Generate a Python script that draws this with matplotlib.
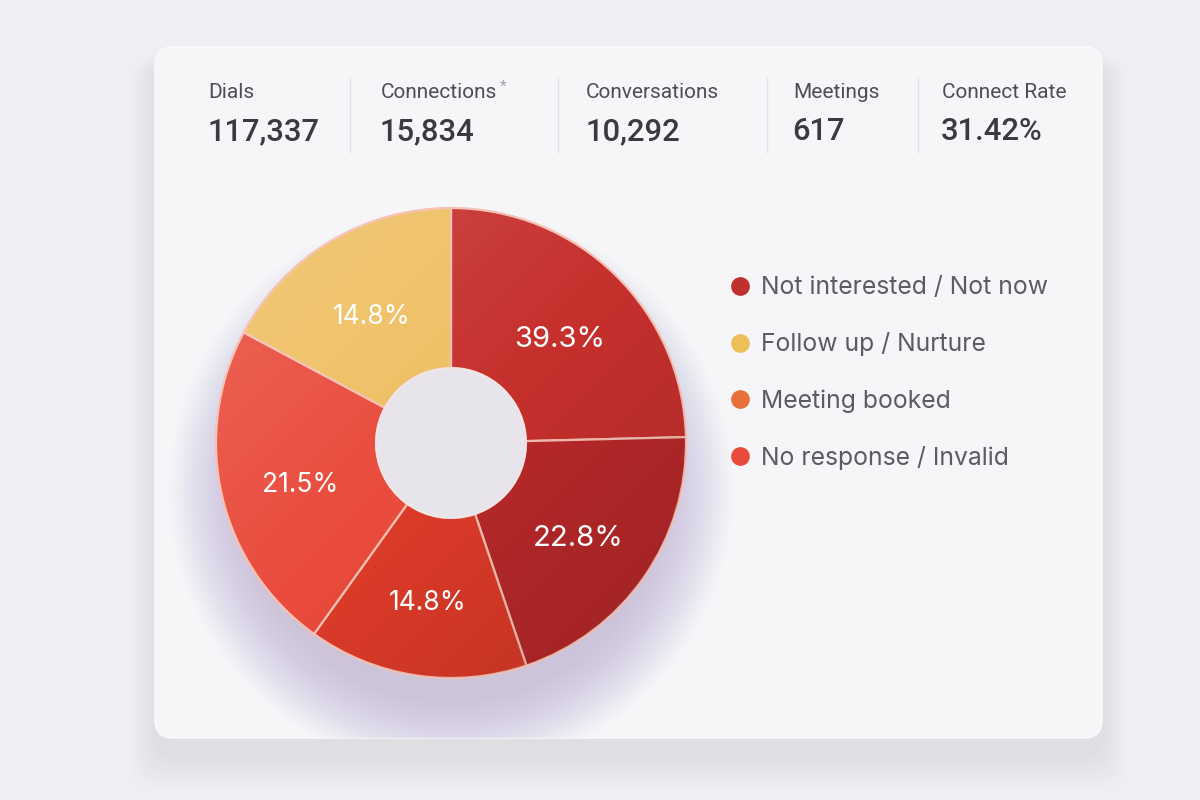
"""Call outcome donut with KPI header card."""

import matplotlib.pyplot as plt
import numpy as np
from matplotlib.lines import Line2D
from matplotlib.patches import Circle, FancyBboxPatch

# KPI header
kpi_names = ["Dials", "Connections", "Conversations", "Meetings", "Connect Rate"]
kpi_values = ["117,337", "15,834", "10,292", "617", "31.42%"]

# donut slices (clockwise from 12 o'clock) and the labels printed on them
slice_shares = [24.6, 20.2, 15.1, 22.9, 17.2]
slice_labels = ["39.3%", "22.8%", "14.8%", "21.5%", "14.8%"]

# legend entries
legend_names = [
    "Not interested / Not now",
    "Follow up / Nurture",
    "Meeting booked",
    "No response / Invalid",
]

SLICE_COLORS = ["#c6302d", "#b9292a", "#dd3b29", "#e94b3c", "#efbf62"]
LABEL_SIZES = [21, 21, 19, 19, 19]
LEGEND_COLORS = ["#c0302f", "#edbf5b", "#e9703b", "#ea4a3b"]

W, H = 1200, 800
fig = plt.figure(figsize=(12, 8), dpi=100)
fig.patch.set_facecolor("#eeeef3")

# background axes in pixel units (y down)
bg = fig.add_axes([0, 0, 1, 1])
bg.set_xlim(0, W)
bg.set_ylim(H, 0)
bg.axis("off")

# card shadow + card
for i in range(16):
    pad = 2 + i * 3
    bg.add_patch(
        FancyBboxPatch(
            (155 - pad * 0.5, 47 + 18 - pad * 0.2),
            947 + pad * 1.0,
            691 + pad * 0.9,
            boxstyle="round,pad=0,rounding_size=26",
            facecolor="#aaa2c2",
            edgecolor="none",
            alpha=0.008,
        )
    )
card = FancyBboxPatch(
    (155, 47),
    947,
    691,
    boxstyle="round,pad=0,rounding_size=18",
    facecolor="#f6f6f8",
    edgecolor="#fbfbfc",
    linewidth=1.0,
)
bg.add_patch(card)

kpi_x = [208, 381, 586, 793, 942]
divider_x = [350, 558, 767, 918]
for x, name, value in zip(kpi_x, kpi_names, kpi_values):
    lab = bg.text(x, 92, name, fontsize=15, color="#4d4d53", family="Roboto",
                  va="center", ha="left")
    bg.text(x - 1, 132, value, fontsize=22.3, color="#3a3a3f", family="Roboto",
            weight="medium", va="center", ha="left")
    if name == "Connections":
        bg.annotate("*", xy=(1, 1), xycoords=lab, xytext=(2, 2),
                    textcoords="offset points", fontsize=11, color="#a0a0a6",
                    family="Roboto", ha="left", va="top")
for x in divider_x:
    bg.plot([x, x], [78, 152], color="#e3e3e8", linewidth=1.0)

# donut axes: 1 data unit = outer radius of 235 px
R_PX = 235
cx, cy = 451, 443
half = 320
pie_ax = fig.add_axes([(cx - half) / W, (H - cy - half) / H, 2 * half / W, 2 * half / H])
lim = half / R_PX
pie_ax.axis("off")

# soft shadow beneath the donut, kept inside the card
for r in np.linspace(1.2, 0.9, 30):
    s = Circle((0.0, -0.2), r, facecolor="#8c7aa4", edgecolor="none",
               alpha=0.01, zorder=0)
    pie_ax.add_patch(s)
    s.set_clip_path(card)

wedges, _ = pie_ax.pie(
    slice_shares,
    startangle=90,
    counterclock=False,
    colors=SLICE_COLORS,
    radius=1.0,
    wedgeprops=dict(width=0.681, edgecolor="#f6c0b3", linewidth=1.6),
)
pie_ax.set_xlim(-lim, lim)
pie_ax.set_ylim(-lim, lim)

# subtle light-to-dark shading across the ring
n = 300
gx, gy = np.meshgrid(np.linspace(-1, 1, n), np.linspace(1, -1, n))
t = np.clip((gx - gy) / 2.8 + 0.5, 0, 1)
shade = np.zeros((n, n, 4))
shade[..., :3] = np.where(t[..., None] < 0.5, 1.0, 0.0)
shade[..., 3] = np.abs(t - 0.5) * 0.22
img = pie_ax.imshow(shade, extent=(-1, 1, -1, 1), zorder=3, interpolation="bilinear")
img.set_clip_path(Circle((0, 0), 1.0, transform=pie_ax.transData))

# centre hole
pie_ax.add_patch(Circle((0, 0), 0.319, facecolor="#e7e5eb", edgecolor="#f3e6e6",
                        linewidth=1.2, zorder=4))

for w, lab, size in zip(wedges, slice_labels, LABEL_SIZES):
    mid = np.deg2rad((w.theta1 + w.theta2) / 2)
    pie_ax.text(0.66 * np.cos(mid), 0.66 * np.sin(mid) - 0.03, lab, fontsize=size,
                color="white", family="Inter", ha="center", va="center", zorder=5)

handles = [
    Line2D([], [], marker="o", linestyle="", markersize=13.5,
           markerfacecolor=c, markeredgecolor="none", label=name)
    for c, name in zip(LEGEND_COLORS, legend_names)
]
fig.legend(
    handles=handles,
    loc="upper left",
    bbox_to_anchor=(718 / W, 1 - 264 / H),
    frameon=False,
    prop={"family": "Inter", "size": 17.8},
    labelcolor="#5b5b61",
    labelspacing=1.33,
    handlelength=0.8,
    handletextpad=0.45,
    borderpad=0,
)

fig.savefig("out.png", dpi=100, facecolor=fig.get_facecolor())
plt.close(fig)
